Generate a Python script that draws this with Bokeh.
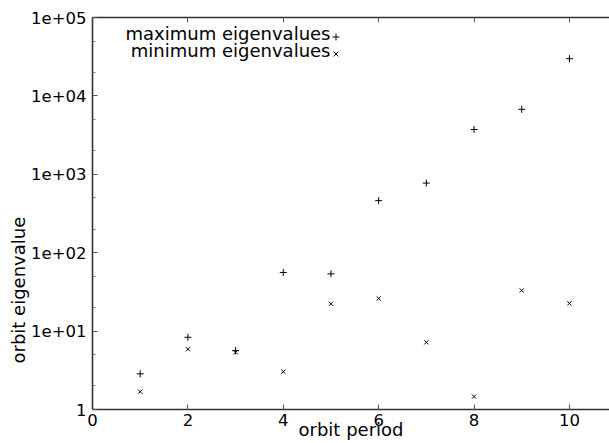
from bokeh.plotting import figure
from bokeh.models import (ColumnDataSource, FixedTicker, LinearAxis, LogAxis,
                          Label, Legend, LegendItem, Range1d, Title,
                          CustomJSTickFormatter)
from bokeh.embed import file_html
from bokeh.resources import INLINE

# ---- data ----
period = [1, 2, 3, 4, 5, 6, 7, 8, 9, 10]
max_eig = [2.85, 8.34, 5.63, 56.0, 53.7, 461, 773, 3726, 6750, 29850]
min_eig = [1.69, 5.87, 5.37, 3.04, 22.3, 26.1, 7.2, 1.46, 33.0, 22.6]

x_ticks = [0, 2, 4, 6, 8, 10]
y_ticks = [1, 10, 100, 1000, 10000, 100000]
y_tick_labels = ["1", "1e+01", "1e+02", "1e+03", "1e+04", "1e+05"]
y_minor = [m * d for d in [1, 10, 100, 1000, 10000] for m in (2, 5)]

legend_labels = ["maximum eigenvalues", "minimum eigenvalues"]
x_label = "orbit period"
y_label = "orbit eigenvalue"

FONT = "DejaVu Sans"
TICK_FS = "16.5px"
FS = "18px"
AXIS_COLOR = "#333333"

src = ColumnDataSource(dict(period=period, max_eig=max_eig, min_eig=min_eig))

p = figure(width=609, height=443, output_backend="svg", toolbar_location=None,
           y_axis_type="log", x_range=Range1d(0, 10.84), y_range=Range1d(1, 1e5),
           min_border_left=92, min_border_right=0, min_border_top=17,
           min_border_bottom=34, x_axis_location=None, y_axis_location=None)
p.outline_line_color = None
p.grid.visible = False
p.background_fill_color = "white"
p.border_fill_color = "white"

xb = LinearAxis(ticker=FixedTicker(ticks=x_ticks))
yl = LogAxis(ticker=FixedTicker(ticks=y_ticks, minor_ticks=y_minor),
             major_label_overrides={float(t): s for t, s in zip(y_ticks, y_tick_labels)})
xt = LinearAxis(ticker=FixedTicker(ticks=x_ticks),
                formatter=CustomJSTickFormatter(code="return ''"))

for ax in (xb, yl, xt):
    ax.axis_line_color = AXIS_COLOR
    ax.axis_line_width = 1.6
    ax.major_tick_in = 5
    ax.major_tick_out = 0
    ax.minor_tick_in = 3
    ax.minor_tick_out = 0
    ax.major_tick_line_color = "#555555"
    ax.minor_tick_line_color = "#777777"
    ax.major_label_text_font = FONT
    ax.major_label_text_font_size = TICK_FS
    ax.major_label_text_color = "black"

xb.minor_tick_line_color = None
xt.minor_tick_line_color = None
xb.major_label_standoff = 4
yl.major_label_standoff = 6
xt.major_label_standoff = 0

xb.axis_label = x_label
xb.axis_label_text_font = FONT
xb.axis_label_text_font_size = FS
xb.axis_label_text_font_style = "normal"
xb.axis_label_text_color = "black"
xb.axis_label_standoff = -10

p.add_layout(xb, "below")
p.add_layout(yl, "left")
p.add_layout(xt, "above")

# y axis title, shifted downward as in the reference
p.add_layout(Title(text=y_label, align="left", offset=46, standoff=0,
                   text_font=FONT, text_font_size=FS, text_font_style="normal",
                   text_color="black"), "left")

r_max = p.scatter("period", "max_eig", source=src, marker="cross", size=7,
                  line_color="black", line_width=1)
r_min = p.scatter("period", "min_eig", source=src, marker="x", size=6,
                  line_color="black", line_width=1)

# legend keys (gnuplot style: text right-aligned, key to the right)
leg = Legend(items=[LegendItem(label=" ", renderers=[r_max]),
                    LegendItem(label=" ", renderers=[r_min])],
             location=(235, 347), glyph_width=17, glyph_height=17,
             label_height=17, label_width=1, label_standoff=0, spacing=0,
             padding=0, margin=0, border_line_color=None,
             background_fill_alpha=0, label_text_font_size="10px")
p.add_layout(leg, "center")

for txt, yv in zip(legend_labels, [63300, 38200]):
    p.add_layout(Label(x=4.99, y=yv, text=txt, text_align="right",
                       text_baseline="alphabetic", text_font=FONT,
                       text_font_size=FS, text_color="black"))

open("out.html", "w").write(file_html(p, INLINE))
